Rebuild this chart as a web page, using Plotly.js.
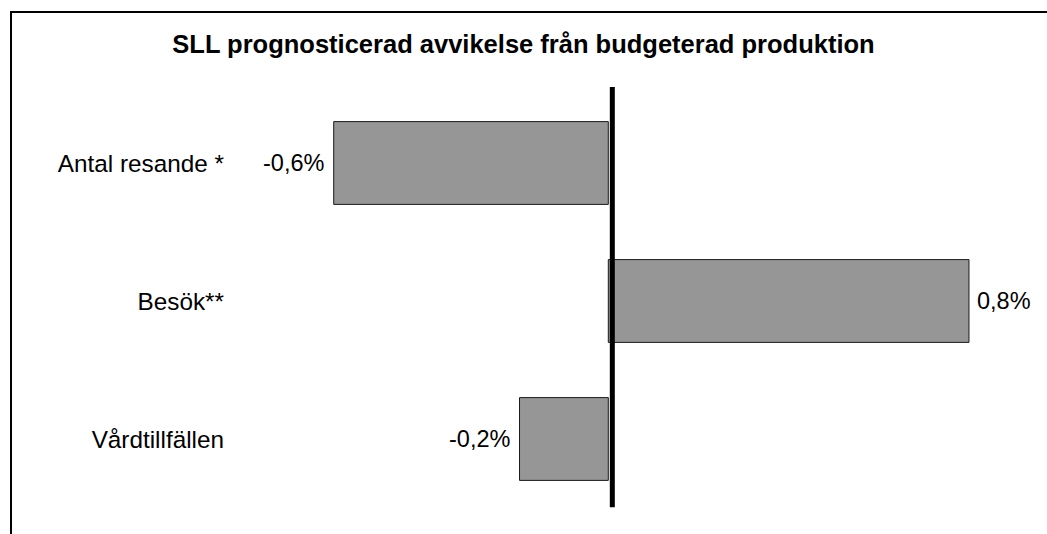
<!DOCTYPE html>
<html>
<head>
<meta charset="utf-8">
<script src="https://cdn.plot.ly/plotly-3.0.1.min.js"></script>
<style>
  html, body { margin: 0; padding: 0; background: #fff; }
  #wrap { position: relative; width: 1047px; height: 534px; overflow: hidden; }
  #chart { position: absolute; left: 0; top: 0; width: 1047px; height: 534px; }
  #frame { position: absolute; left: 10px; top: 11px; right: -5px; bottom: -5px;
           border-top: 2px solid #000; border-left: 2px solid #000; pointer-events: none; }
</style>
</head>
<body>
<div id="wrap">
  <div id="chart"></div>
  <div id="frame"></div>
</div>
<script>
// Data
const categories = ["Antal resande *", "Besök**", "Vårdtillfällen"];
const values = [-0.60, 0.788, -0.194];
const valueLabels = ["-0,6%", "0,8%", "-0,2%"];
const chartTitle = "SLL prognosticerad avvikelse från budgeterad produktion";

const FONT = "Liberation Sans, Arial, Helvetica, sans-serif";
const xRange = [-0.8091, 0.8558];

const trace = {
  type: "bar",
  orientation: "h",
  x: values,
  y: categories,
  marker: { color: "#969696", line: { color: "#1a1a1a", width: 1 } },
  hoverinfo: "none",
  cliponaxis: false
};

const annotations = values.map((v, i) => ({
  x: v, y: categories[i], xref: "x", yref: "y",
  text: valueLabels[i], showarrow: false,
  xanchor: v < 0 ? "right" : "left",
  xshift: v < 0 ? -8 : 6,
  font: { family: FONT, size: 23.5, color: "#000" }
}));

const layout = {
  width: 1047, height: 534,
  margin: { l: 238, r: 47, t: 94, b: 26 },
  paper_bgcolor: "rgba(0,0,0,0)",
  plot_bgcolor: "rgba(0,0,0,0)",
  showlegend: false,
  bargap: 0.4,
  title: {
    text: chartTitle,
    x: 0.5, xref: "container", xanchor: "center",
    y: 1 - 44.5 / 534, yref: "container", yanchor: "middle",
    font: { family: FONT, size: 25.5, color: "#000", weight: "bold" }
  },
  xaxis: {
    range: xRange, showgrid: false, zeroline: false, showline: false,
    showticklabels: false, ticks: "", fixedrange: true
  },
  yaxis: {
    autorange: "reversed", showgrid: false, zeroline: false, showline: false,
    ticks: "", ticklabelstandoff: 13,
    tickfont: { family: FONT, size: 24.3, color: "#000" }, fixedrange: true
  },
  shapes: [{
    type: "line", layer: "above",
    xref: "x", xsizemode: "pixel", xanchor: 0, x0: 4, x1: 4,
    yref: "paper", y0: 0.002, y1: 1.017,
    line: { color: "#000", width: 5 }
  }],
  annotations: annotations
};

Plotly.newPlot("chart", [trace], layout, { displayModeBar: false, staticPlot: true });
</script>
</body>
</html>
